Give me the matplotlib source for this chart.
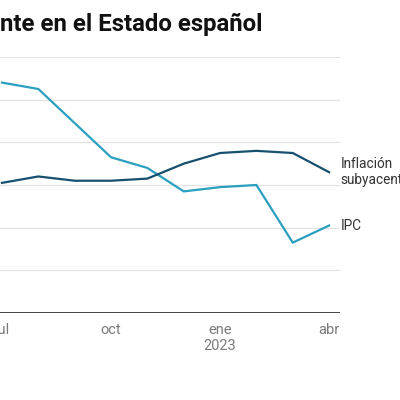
import matplotlib
matplotlib.use('Agg')
import matplotlib.pyplot as plt

# Datos: IPC e inflación subyacente (%), julio 2022 - abril 2023
meses = ['jul', 'ago', 'sep', 'oct', 'nov', 'dic', 'ene', 'feb', 'mar', 'abr']
ipc = [10.8, 10.5, 8.9, 7.3, 6.8, 5.7, 5.9, 6.0, 3.3, 4.1]
subyacente = [6.1, 6.4, 6.2, 6.2, 6.3, 7.0, 7.5, 7.6, 7.5, 6.6]
ticks_pos = [0, 3, 6, 9]
ticks_txt = ['jul', 'oct', 'ene\n2023', 'abr']
y_grid = [2, 4, 6, 8, 10, 12]

plt.rcParams['font.family'] = ['Roboto', 'DejaVu Sans']

fig = plt.figure(figsize=(4, 4), dpi=100)
fig.patch.set_facecolor('white')
ax = fig.add_axes([0.0, 0.2175, 0.85, 0.64])

x = list(range(len(meses)))
ax.plot(x, ipc, color='#2a9fbf', lw=1.6, solid_joinstyle='miter', zorder=3)
ax.plot(x, subyacente, color='#17506e', lw=1.6, solid_joinstyle='miter', zorder=3)

ax.set_xlim(-0.055, 9.3)
ax.set_ylim(0, 12)

for g in y_grid:
    ax.axhline(g, color='#e3e3e3', lw=0.9, zorder=1)
ax.axhline(0, color='#444444', lw=1.4, zorder=2)

for s in ax.spines.values():
    s.set_visible(False)
ax.set_yticks([])
ax.set_xticks(ticks_pos)
ax.set_xticklabels(ticks_txt, fontsize=10.5, color='#7a7a7a', linespacing=1.25)
ax.tick_params(axis='x', length=0, pad=7)

# etiquetas de las series
ax.text(9.32, subyacente[-1], 'Inflación\nsubyacente', fontsize=9.8, color='#333333',
        va='center', ha='left', linespacing=1.2, clip_on=False)
ax.text(9.32, ipc[-1], 'IPC', fontsize=9.8, color='#333333',
        va='center', ha='left', clip_on=False)

fig.text(0.0, 0.938, 'nte en el Estado español', fontsize=17.3, fontweight='bold',
         color='#111111', va='center', ha='left')

fig.savefig('out.png', dpi=100, facecolor='white')
